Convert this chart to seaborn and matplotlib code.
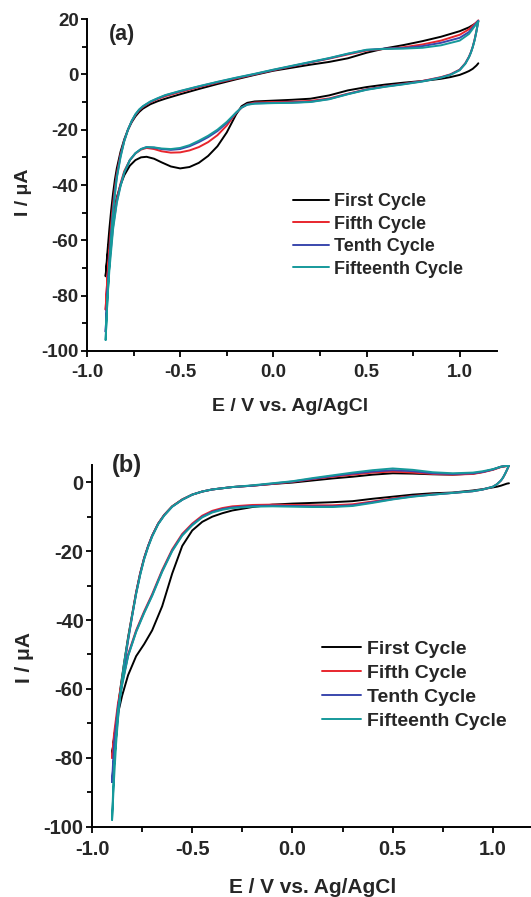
import pandas as pd
import numpy as np
import seaborn as sns
import matplotlib.pyplot as plt
from matplotlib.ticker import MultipleLocator, FormatStrFormatter

CYCLES = ['First Cycle', 'Fifth Cycle', 'Tenth Cycle', 'Fifteenth Cycle']
COLORS = ['#000000', '#e8262d', '#3a47ad', '#16999b']

# ---- panel (a): forward (anodic) branch, -0.9 -> 1.1 V
E_A_UP = [-0.90, -0.89, -0.88, -0.87, -0.86, -0.85, -0.84, -0.82, -0.80, -0.78, -0.76, -0.74,
          -0.72, -0.70, -0.66, -0.62, -0.58, -0.50, -0.40, -0.30, -0.20, -0.10, 0.00, 0.10,
          0.20, 0.30, 0.40, 0.50, 0.60, 0.70, 0.80, 0.90, 1.00, 1.05, 1.10]
A_UP_FIRST = [-73, -64, -56, -49, -43, -38, -34, -28, -23.5, -20, -17.3, -15.2, -13.6, -12.4,
              -10.8, -9.7, -8.8, -7.2, -5.3, -3.5, -1.8, -0.2, 1.3, 2.4, 3.5, 4.5, 5.8, 7.8,
              9.4, 10.6, 12.0, 13.6, 15.6, 17.0, 19.0]
A_UP_FIFTH = [-85, -73, -63, -54, -47, -41, -36, -29, -24, -20, -17, -14.7, -13, -11.8,
              -10.1, -8.9, -7.9, -6.4, -4.6, -3.0, -1.5, 0.0, 1.5, 2.9, 4.3, 5.7, 7.2, 8.6,
              9.2, 9.8, 10.8, 12.2, 14.3, 16.3, 19.5]
A_UP_TENTH = [-93, -79, -67, -57, -49, -42.5, -37, -29.5, -24, -20, -16.9, -14.5, -12.8, -11.6,
              -9.9, -8.7, -7.6, -6.1, -4.4, -2.8, -1.3, 0.1, 1.6, 3.0, 4.4, 5.8, 7.4, 8.8,
              9.3, 9.5, 10.2, 11.4, 13.2, 15.3, 19.4]
A_UP_FIFTEENTH = [-96, -81, -69, -58.5, -50, -43.5, -37.5, -30, -24.2, -20, -16.8, -14.4, -12.7,
                  -11.5, -9.8, -8.6, -7.5, -6.0, -4.3, -2.7, -1.2, 0.2, 1.7, 3.1, 4.5, 5.9, 7.5,
                  8.9, 9.2, 9.3, 9.6, 10.5, 12.2, 14.6, 19.2]

# ---- panel (a): reverse (cathodic) branch, 1.1 -> -0.9 V
E_A_DN = [1.10, 1.09, 1.08, 1.07, 1.06, 1.05, 1.03, 1.00, 0.95, 0.90, 0.80, 0.70, 0.60, 0.50,
          0.40, 0.30, 0.20, 0.10, 0.00, -0.10, -0.14, -0.17, -0.20, -0.25, -0.30, -0.35, -0.40,
          -0.45, -0.50, -0.55, -0.60, -0.64, -0.68, -0.71, -0.74, -0.77, -0.80, -0.82, -0.84,
          -0.86, -0.88, -0.89, -0.90]
A_DN_FIRST = [4.0, 3.2, 2.6, 2.0, 1.6, 1.2, 0.6, -0.2, -1.0, -1.6, -2.4, -3.0, -3.7, -4.6, -5.8,
              -7.6, -8.8, -9.2, -9.5, -9.8, -10.3, -11.5, -14.5, -21.0, -26.0, -29.5, -32.0,
              -33.5, -34.0, -33.3, -31.8, -30.5, -29.8, -30.0, -31.0, -33.0, -36.5, -40.0,
              -44.5, -51.0, -60.0, -66.0, -73.0]
A_DN_FIFTH = [19.5, 15.8, 12.6, 10.0, 8.0, 6.4, 4.0, 1.7, 0.0, -1.0, -2.4, -3.4, -4.3, -5.4,
              -7.0, -8.7, -9.6, -9.9, -10.0, -10.2, -10.8, -12.0, -14.0, -18.5, -22.0, -24.5,
              -26.3, -27.5, -28.2, -28.3, -27.8, -27.0, -26.6, -27.2, -28.6, -31.0, -35.0,
              -39.5, -45.0, -53.0, -65.0, -73.0, -85.0]
A_DN_TENTH = [19.4, 15.6, 12.4, 9.9, 7.9, 6.3, 3.9, 1.6, -0.1, -1.1, -2.5, -3.5, -4.4, -5.5,
              -7.1, -8.9, -9.9, -10.2, -10.3, -10.5, -10.9, -12.0, -13.9, -17.6, -20.5, -22.7,
              -24.5, -26.0, -27.0, -27.3, -27.0, -26.5, -26.3, -27.0, -28.5, -31.0, -35.5,
              -40.0, -46.0, -55.0, -69.0, -79.0, -93.0]
A_DN_FIFTEENTH = [19.2, 15.5, 12.3, 9.8, 7.8, 6.2, 3.8, 1.5, -0.2, -1.2, -2.6, -3.6, -4.5, -5.6,
                  -7.2, -9.0, -10.0, -10.3, -10.4, -10.6, -11.0, -12.0, -13.8, -17.2, -20.0,
                  -22.2, -24.0, -25.6, -26.6, -27.0, -26.8, -26.4, -26.3, -27.0, -28.5, -31.0,
                  -35.5, -40.5, -46.5, -56.0, -71.0, -81.0, -96.0]

# ---- panel (b): forward branch
E_B_UP = [-0.90, -0.89, -0.88, -0.87, -0.86, -0.85, -0.84, -0.82, -0.80, -0.78, -0.76, -0.74,
          -0.72, -0.70, -0.67, -0.64, -0.60, -0.55, -0.50, -0.45, -0.40, -0.30, -0.20, -0.10,
          0.00, 0.10, 0.20, 0.30, 0.40, 0.50, 0.60, 0.70, 0.80, 0.90, 0.95, 1.00, 1.04, 1.08]
B_UP_FIRST = [-79, -74.5, -70, -65.5, -60.5, -56.5, -52.5, -45, -38.5, -32, -26.5, -22, -18.5,
              -15.5, -12.0, -9.5, -7.0, -5.0, -3.6, -2.7, -2.1, -1.4, -1.0, -0.5, -0.1, 0.5,
              1.1, 1.6, 2.2, 2.6, 2.5, 2.3, 2.2, 2.5, 3.0, 3.7, 4.5, 4.8]
B_UP_FIFTH = [-80, -75, -70.5, -66, -61, -57, -53, -45.5, -38.5, -32, -26.5, -22, -18.5,
              -15.5, -12.0, -9.5, -7.0, -5.0, -3.6, -2.7, -2.1, -1.4, -1.0, -0.5, 0.1, 0.9,
              1.6, 2.2, 2.8, 3.1, 2.8, 2.4, 2.2, 2.4, 2.9, 3.6, 4.4, 4.8]
B_UP_TENTH = [-87, -80, -74, -68, -62.5, -58, -53.5, -46, -39, -32.3, -26.8, -22.2, -18.6,
              -15.6, -12.1, -9.6, -7.1, -5.1, -3.6, -2.7, -2.1, -1.4, -1.0, -0.4, 0.2, 1.0,
              1.8, 2.5, 3.1, 3.5, 3.2, 2.6, 2.4, 2.6, 3.0, 3.7, 4.5, 4.9]
B_UP_FIFTEENTH = [-98, -86, -76, -68.5, -62, -57, -52.5, -45.5, -38.8, -32.5, -27, -22.4, -18.8,
                  -15.8, -12.2, -9.7, -7.1, -5.1, -3.6, -2.7, -2.1, -1.4, -0.9, -0.3, 0.3, 1.2,
                  2.0, 2.8, 3.5, 4.0, 3.6, 2.9, 2.6, 2.8, 3.2, 3.8, 4.5, 4.9]

# ---- panel (b): reverse branch
E_B_DN = [1.08, 1.07, 1.06, 1.05, 1.04, 1.02, 1.00, 0.95, 0.90, 0.80, 0.70, 0.60, 0.50, 0.40,
          0.30, 0.20, 0.10, 0.00, -0.10, -0.20, -0.30, -0.35, -0.40, -0.45, -0.50, -0.55,
          -0.60, -0.65, -0.70, -0.74, -0.78, -0.82, -0.85, -0.87, -0.89, -0.90]
B_DN_FIRST = [-0.3, -0.4, -0.6, -0.8, -1.0, -1.3, -1.5, -2.0, -2.4, -3.0, -3.2, -3.6, -4.2, -4.8,
              -5.5, -5.8, -6.0, -6.2, -6.5, -7.2, -8.2, -9.0, -10.0, -11.5, -14.0, -18.5,
              -26.5, -36.0, -43.0, -47.0, -50.5, -56.0, -62.0, -67.0, -74.0, -79.0]
B_DN_FIFTH = [4.8, 3.5, 2.3, 1.3, 0.5, -0.6, -1.3, -2.1, -2.6, -3.1, -3.5, -4.0, -4.7, -5.6,
              -6.4, -6.7, -6.7, -6.6, -6.5, -6.6, -7.0, -7.5, -8.3, -9.7, -12.0, -15.0, -19.5,
              -25.5, -32.5, -37.5, -43.0, -50.0, -58.0, -64.0, -73.0, -80.0]
B_DN_TENTH = [4.9, 3.6, 2.4, 1.3, 0.5, -0.6, -1.3, -2.1, -2.6, -3.1, -3.6, -4.1, -4.9, -5.8,
              -6.7, -7.0, -7.0, -6.9, -6.8, -6.9, -7.3, -7.8, -8.6, -10.0, -12.3, -15.3, -19.8,
              -25.8, -32.8, -37.8, -43.3, -50.3, -58.5, -65.0, -76.0, -87.0]
B_DN_FIFTEENTH = [4.9, 3.6, 2.4, 1.3, 0.5, -0.6, -1.3, -2.1, -2.6, -3.1, -3.6, -4.2, -5.0, -6.0,
                  -6.9, -7.2, -7.2, -7.1, -7.0, -7.1, -7.5, -8.0, -8.8, -10.2, -12.5, -15.5,
                  -20.0, -26.0, -33.0, -38.0, -43.5, -50.5, -59.0, -66.0, -82.0, -98.0]


def cycle_frame(e_up, e_dn, ups, downs):
    # first cycle starts at the positive end (reverse scan first), the others loop from -0.9 V
    frames = []
    for name, up, dn in zip(CYCLES, ups, downs):
        if name == 'First Cycle':
            e = list(e_dn) + list(e_up)
            i = list(dn) + list(up)
        else:
            e = list(e_up) + list(e_dn)
            i = list(up) + list(dn)
        frames.append(pd.DataFrame({'E': e, 'I': i, 'Cycle': name, 'step': range(len(e))}))
    return pd.concat(frames, ignore_index=True)


sns.set_theme(style='ticks')
plt.rcParams['font.family'] = ['Liberation Sans', 'DejaVu Sans']
plt.rcParams['font.weight'] = 'bold'
plt.rcParams['axes.labelweight'] = 'bold'
plt.rcParams['axes.unicode_minus'] = False
plt.rcParams['axes.linewidth'] = 1.4

fig = plt.figure(figsize=(5.31, 8.97), dpi=100)
ax_a = fig.add_axes([0.1638, 0.6087, 0.7721, 0.3701])
ax_b = fig.add_axes([0.1733, 0.0784, 0.8305, 0.4032])

df_a = cycle_frame(E_A_UP, E_A_DN,
                   [A_UP_FIRST, A_UP_FIFTH, A_UP_TENTH, A_UP_FIFTEENTH],
                   [A_DN_FIRST, A_DN_FIFTH, A_DN_TENTH, A_DN_FIFTEENTH])
df_b = cycle_frame(E_B_UP, E_B_DN,
                   [B_UP_FIRST, B_UP_FIFTH, B_UP_TENTH, B_UP_FIFTEENTH],
                   [B_DN_FIRST, B_DN_FIFTH, B_DN_TENTH, B_DN_FIFTEENTH])

panels = [
    (ax_a, df_a, (-100, 20), '(a)', dict(tick=13.5, label=14, leg=13, tag=15.5, spacing=0.3),
     (0.085, 0.952), (0.502, 0.348), (0.495, -0.166), (-0.156, 0.479)),
    (ax_b, df_b, (-100, 5), '(b)', dict(tick=14.5, label=15, leg=14, tag=17, spacing=0.33),
     (0.080, 0.998), (0.5215, 0.392), (0.5007, -0.1695), (-0.153, 0.469)),
]

for ax, df, ylim, tag, fs, tag_pos, leg_pos, xl_pos, yl_pos in panels:
    sns.lineplot(data=df, x='E', y='I', hue='Cycle', hue_order=CYCLES, palette=COLORS,
                 sort=False, estimator=None, lw=1.4, ax=ax)
    sns.despine(ax=ax)
    ax.set_xlim(-1.0, 1.2)
    ax.set_ylim(*ylim)
    ax.xaxis.set_major_locator(MultipleLocator(0.5))
    ax.xaxis.set_minor_locator(MultipleLocator(0.25))
    ax.xaxis.set_major_formatter(FormatStrFormatter('%.1f'))
    ax.yaxis.set_major_locator(MultipleLocator(20))
    ax.yaxis.set_minor_locator(MultipleLocator(10))
    ax.tick_params(which='both', direction='out', width=1.3, labelsize=fs['tick'], color='black')
    ax.tick_params(which='major', length=4.5)
    ax.tick_params(which='minor', length=3.5)
    ax.tick_params(axis='x', pad=5)
    ax.tick_params(axis='y', pad=1.5)
    for sp in ax.spines.values():
        sp.set_color('black')

    ax.set_xlabel('E / V vs. Ag/AgCl', fontsize=fs['label'], va='center')
    ax.set_ylabel('I / μA', fontsize=fs['label'], va='center')
    ax.xaxis.set_label_coords(*xl_pos)
    ax.yaxis.set_label_coords(*yl_pos)
    ax.text(tag_pos[0], tag_pos[1], tag, transform=ax.transAxes, ha='center', va='center',
            fontsize=fs['tag'], fontweight='bold')

    handles, labels = ax.get_legend_handles_labels()
    ax.legend(handles, labels, frameon=False, loc='center left', bbox_to_anchor=leg_pos,
              prop={'size': fs['leg'], 'weight': 'bold'}, handlelength=2.0, handletextpad=0.3,
              labelspacing=fs['spacing'], borderpad=0, borderaxespad=0)

fig.savefig('out.png', dpi=100)
